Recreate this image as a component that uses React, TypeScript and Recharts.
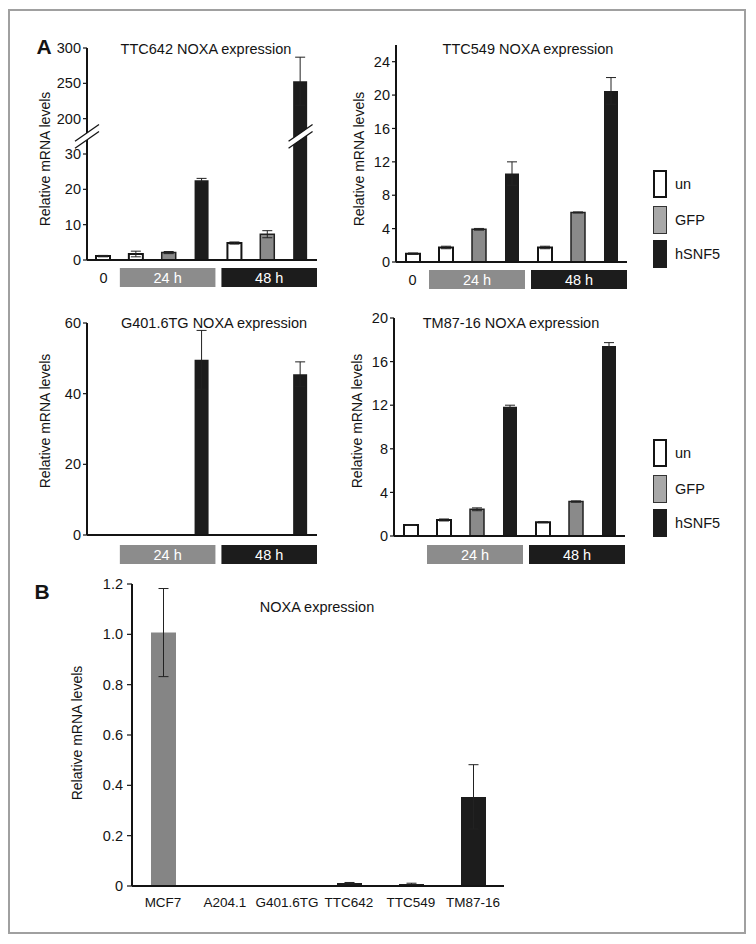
import React from "react";
import { BarChart, Bar, XAxis, YAxis, ErrorBar, Cell, ReferenceDot } from "recharts";

// panel A: time course, one bar per condition
const conditions = ["0", "24 h", "24 h", "24 h", "48 h", "48 h", "48 h"];
const treatments = ["un", "un", "GFP", "hSNF5", "un", "GFP", "hSNF5"];
const legendKeys = ["un", "GFP", "hSNF5"];

const ttc642Values = [1.1, 1.7, 2.1, 22.6, 4.8, 7.3, 253];
const ttc642Errors = [0.2, 0.8, 0.3, 0.5, 0.3, 1.0, 34];
const ttc642Ticks = [0, 10, 20, 30, 200, 250, 300];
const ttc642Break = { low: 30, high: 200, step: 50 };

const ttc549Values = [1.0, 1.74, 3.92, 10.6, 1.74, 5.94, 20.5];
const ttc549Errors = [0.08, 0.15, 0.1, 1.4, 0.15, 0.06, 1.6];
const ttc549Ticks = [0, 4, 8, 12, 16, 20, 24];

const g401Values = [0, 0, 0, 49.6, 0, 0, 45.5];
const g401Errors = [0, 0, 0, 8.3, 0, 0, 3.5];
const g401Ticks = [0, 20, 40, 60];

const tm87Values = [1.0, 1.47, 2.45, 11.86, 1.26, 3.16, 17.44];
const tm87Errors = [0.03, 0.09, 0.13, 0.14, 0.05, 0.06, 0.3];
const tm87Ticks = [0, 4, 8, 12, 16, 20];

// panel B: cell lines
const cellLines = ["MCF7", "A204.1", "G401.6TG", "TTC642", "TTC549", "TM87-16"];
const panelBValues = [1.007, 0, 0, 0.012, 0.008, 0.354];
const panelBErrors = [0.175, 0, 0, 0.002, 0.003, 0.128];
const panelBTicks = [0, 0.2, 0.4, 0.6, 0.8, 1.0, 1.2];

const FONT = '"Liberation Sans", Arial, Helvetica, sans-serif';
const INK = "#141414";
const BLACK = "#1c1c1c";
const GREY = "#8a8a8a";
const WHISKER = "#222";

const barStyle: Record<string, { fill: string; stroke: string; strokeWidth: number }> = {
  un: { fill: "#ffffff", stroke: INK, strokeWidth: 2 },
  GFP: { fill: GREY, stroke: "#222", strokeWidth: 1.5 },
  hSNF5: { fill: BLACK, stroke: BLACK, strokeWidth: 0 },
};
const groupFill: Record<string, string> = { "24 h": "#8c8c8c", "48 h": BLACK };

// squeeze values above the break onto the upper axis segment
const toBroken = (v: number) =>
  v <= ttc642Break.low ? v : ttc642Break.low + 10 + ((v - ttc642Break.high) / ttc642Break.step) * 10;
const fromBroken = (d: number) =>
  d <= ttc642Break.low ? d : ttc642Break.high + ((d - ttc642Break.low - 10) / 10) * ttc642Break.step;

function groupsOf(labels: string[]) {
  const out: { label: string; from: number; to: number }[] = [];
  labels.forEach((l, i) => {
    const last = out[out.length - 1];
    if (last && last.label === l) last.to = i + 1;
    else out.push({ label: l, from: i, to: i + 1 });
  });
  return out;
}

const BreakMark = ({ cx, cy, half }: { cx: number; cy: number; half: number }) => {
  const rise = half * 0.7;
  const gap = 3.5;
  return (
    <g>
      <polygon
        points={`${cx - half},${cy + rise + gap} ${cx + half},${cy - rise + gap} ${cx + half},${cy - rise - gap} ${cx - half},${cy + rise - gap}`}
        fill="#fff"
      />
      <line x1={cx - half} y1={cy + rise + gap} x2={cx + half} y2={cy - rise + gap} stroke={INK} strokeWidth={1.3} />
      <line x1={cx - half} y1={cy + rise - gap} x2={cx + half} y2={cy - rise - gap} stroke={INK} strokeWidth={1.3} />
    </g>
  );
};

type Plot = { x: number; y: number; w: number; h: number };

type PanelProps = {
  plot: Plot;
  values: number[];
  errors: number[];
  domain: [number, number];
  ticks: number[];
  broken?: boolean;
  showZero: boolean;
  boxGap: number;
};

const YW = 42;
const MT = 12;

function TimePanel({ plot, values, errors, domain, ticks, broken, showZero, boxGap }: PanelProps) {
  const disp = broken ? toBroken : (v: number) => v;
  const rows = values.map((v, i) => ({
    x: i + 0.5,
    value: disp(v),
    err: [disp(v) - disp(Math.max(0, v - errors[i])), disp(v + errors[i]) - disp(v)],
    kind: treatments[i],
  }));
  const n = rows.length;
  const unit = plot.w / n;
  const groups = groupsOf(conditions);
  const mr = 6;
  const grpH = 24;

  const GroupTick = (props: any) => {
    const { x, y, payload } = props;
    const gi = groups.findIndex((g) => (g.from + g.to) / 2 === payload.value);
    const g = groups[gi];
    if (!g) return null;
    const fill = groupFill[g.label];
    if (!fill) {
      if (!showZero) return null;
      return (
        <text x={x} y={y + 10} textAnchor="middle" dominantBaseline="central" fontSize={14.5} fill={INK}>
          {g.label}
        </text>
      );
    }
    const prev = groups[gi - 1] && groupFill[groups[gi - 1].label];
    const next = groups[gi + 1] && groupFill[groups[gi + 1].label];
    const half = ((g.to - g.from) * unit) / 2;
    const left = x - half + (prev ? 3 : 0);
    const right = x + half - (next ? 3 : 0);
    return (
      <g>
        <rect x={left} y={y} width={right - left} height={19} fill={fill} />
        <text x={(left + right) / 2} y={y + 10} textAnchor="middle" dominantBaseline="central" fontSize={14.5} fill="#fff">
          {g.label}
        </text>
      </g>
    );
  };

  const breakRow = broken ? rows.findIndex((r, i) => values[i] > ttc642Break.low) : -1;
  const breakY = ttc642Break.low + 5;

  return (
    <div style={{ position: "absolute", left: plot.x - YW, top: plot.y - MT }}>
      <BarChart
        width={YW + plot.w + mr}
        height={MT + plot.h + boxGap + grpH}
        data={rows}
        margin={{ top: MT, right: mr, left: 0, bottom: 0 }}
      >
        <XAxis
          xAxisId="b"
          dataKey="x"
          type="number"
          domain={[0, n]}
          ticks={groups.map((g) => (g.from + g.to) / 2)}
          interval={0}
          axisLine={false}
          tickLine={false}
          tickSize={0}
          tickMargin={0}
          height={grpH}
          tick={GroupTick}
          allowDataOverflow
        />
        <XAxis
          xAxisId="a"
          dataKey="x"
          type="number"
          domain={[0, n]}
          ticks={rows.map((_, i) => i).concat(n)}
          interval={0}
          tick={false}
          tickSize={5}
          height={boxGap}
          axisLine={{ stroke: INK, strokeWidth: 2 }}
          tickLine={{ stroke: INK, strokeWidth: 1.5 }}
          allowDataOverflow
        />
        <YAxis
          width={YW}
          type="number"
          domain={domain}
          ticks={ticks}
          interval={0}
          allowDataOverflow
          tickSize={4}
          tickMargin={2}
          tick={{ fill: INK, fontSize: 14.5 }}
          tickFormatter={(v: number) => String(broken ? Math.round(fromBroken(v)) : v)}
          axisLine={{ stroke: INK, strokeWidth: 2 }}
          tickLine={{ stroke: INK, strokeWidth: 1.2 }}
        />
        <Bar xAxisId="a" dataKey="value" barSize={14} isAnimationActive={false}>
          {rows.map((r, i) => (
            <Cell key={i} {...barStyle[r.kind]} />
          ))}
          <ErrorBar dataKey="err" width={5} stroke={WHISKER} strokeWidth={1} direction="y" isAnimationActive={false} />
        </Bar>
        {broken && (
          <ReferenceDot
            xAxisId="a"
            x={rows[breakRow].x}
            y={breakY}
            ifOverflow="visible"
            shape={(p: any) => <BreakMark cx={p.cx} cy={p.cy} half={12} />}
          />
        )}
        {broken && (
          <ReferenceDot
            xAxisId="a"
            x={0}
            y={breakY}
            ifOverflow="visible"
            shape={(p: any) => <BreakMark cx={p.cx} cy={p.cy} half={12} />}
          />
        )}
      </BarChart>
    </div>
  );
}

function CellLinePanel() {
  const plot = { x: 132, y: 584, w: 372, h: 302 };
  const yw = 50;
  const mr = 8;
  const rows = panelBValues.map((v, i) => ({
    x: i + 0.5,
    value: v,
    err: panelBErrors[i],
    name: cellLines[i],
  }));
  const n = rows.length;
  return (
    <div style={{ position: "absolute", left: plot.x - yw, top: plot.y - MT }}>
      <BarChart
        width={yw + plot.w + mr}
        height={MT + plot.h + 6 + 26}
        data={rows}
        margin={{ top: MT, right: mr, left: 0, bottom: 0 }}
      >
        <XAxis
          xAxisId="b"
          dataKey="x"
          type="number"
          domain={[0, n]}
          ticks={rows.map((r) => r.x)}
          interval={0}
          axisLine={false}
          tickLine={false}
          tickSize={0}
          tickMargin={0}
          height={26}
          tick={(p: any) => (
            <text x={p.x} y={p.y + 10} textAnchor="middle" dominantBaseline="central" fontSize={13.5} fill={INK}>
              {cellLines[Math.floor(p.payload.value)]}
            </text>
          )}
          allowDataOverflow
        />
        <XAxis
          xAxisId="a"
          dataKey="x"
          type="number"
          domain={[0, n]}
          ticks={rows.map((_, i) => i).concat(n)}
          interval={0}
          tick={false}
          tickSize={5}
          height={6}
          axisLine={{ stroke: INK, strokeWidth: 2 }}
          tickLine={{ stroke: INK, strokeWidth: 1.5 }}
          allowDataOverflow
        />
        <YAxis
          width={yw}
          type="number"
          domain={[0, 1.2]}
          ticks={panelBTicks}
          interval={0}
          allowDataOverflow
          tickSize={5}
          tickMargin={4}
          tick={{ fill: INK, fontSize: 14.5 }}
          tickFormatter={(v: number) => (v === 0 ? "0" : v.toFixed(1))}
          axisLine={{ stroke: INK, strokeWidth: 2 }}
          tickLine={{ stroke: INK, strokeWidth: 1.2 }}
        />
        <Bar xAxisId="a" dataKey="value" barSize={25} isAnimationActive={false}>
          {rows.map((r, i) => (
            <Cell key={i} fill={i === 0 ? "#858585" : BLACK} />
          ))}
          <ErrorBar dataKey="err" width={5} stroke={WHISKER} strokeWidth={1} direction="y" isAnimationActive={false} />
        </Bar>
      </BarChart>
    </div>
  );
}

const Text = ({ x, y, children, size = 14.5, weight = 400, rotate = false }: any) => (
  <div
    style={{
      position: "absolute",
      left: x,
      top: y,
      transform: `translate(-50%, -50%)${rotate ? " rotate(-90deg)" : ""}`,
      whiteSpace: "nowrap",
      fontSize: size,
      fontWeight: weight,
      lineHeight: 1,
      color: INK,
    }}
  >
    {children}
  </div>
);

const legendBox: Record<string, React.CSSProperties> = {
  un: { background: "#fff", border: `2px solid ${INK}` },
  GFP: { background: "#a8a8a8", border: "1.5px solid #333" },
  hSNF5: { background: BLACK, border: `1px solid ${BLACK}` },
};

const Legend = ({ tops }: { tops: number[] }) => (
  <>
    {legendKeys.map((k, i) => (
      <React.Fragment key={k}>
        <div
          style={{
            position: "absolute",
            left: 653,
            top: tops[i],
            width: 14,
            height: 28,
            boxSizing: "border-box",
            ...legendBox[k],
          }}
        />
        <div style={{ position: "absolute", left: 675, top: tops[i] + 14, transform: "translateY(-50%)", fontSize: 14.5, lineHeight: 1, color: INK }}>
          {k}
        </div>
      </React.Fragment>
    ))}
  </>
);

export default function App() {
  return (
    <div style={{ position: "absolute", left: 0, top: 0, width: 756, height: 944, fontFamily: FONT, background: "#fff" }}>
      <div
        style={{
          position: "absolute",
          left: 8,
          top: 9,
          width: 738,
          height: 925,
          border: "2px solid #a0a0a0",
          boxSizing: "border-box",
        }}
      />
      <Text x={44} y={46} size={21} weight={700}>A</Text>
      <Text x={42} y={591} size={21} weight={700}>B</Text>

      <TimePanel
        plot={{ x: 87, y: 48, w: 230, h: 212 }}
        values={ttc642Values}
        errors={ttc642Errors}
        domain={[0, toBroken(300)]}
        ticks={ttc642Ticks.map(toBroken)}
        broken
        showZero
        boxGap={8}
      />
      <Text x={206} y={49}>TTC642 NOXA expression</Text>
      <Text x={45} y={159} size={14} rotate>Relative mRNA levels</Text>

      <TimePanel
        plot={{ x: 396, y: 45, w: 231, h: 217 }}
        values={ttc549Values}
        errors={ttc549Errors}
        domain={[0, 26]}
        ticks={ttc549Ticks}
        showZero
        boxGap={8}
      />
      <Text x={528} y={49}>TTC549 NOXA expression</Text>
      <Text x={359} y={159} size={14} rotate>Relative mRNA levels</Text>
      <Legend tops={[170, 206, 240]} />

      <TimePanel
        plot={{ x: 87, y: 323, w: 230, h: 212 }}
        values={g401Values}
        errors={g401Errors}
        domain={[0, 60]}
        ticks={g401Ticks}
        showZero={false}
        boxGap={10}
      />
      <Text x={214} y={323}>G401.6TG NOXA expression</Text>
      <Text x={45} y={421} size={14} rotate>Relative mRNA levels</Text>

      <TimePanel
        plot={{ x: 394, y: 318, w: 231, h: 218 }}
        values={tm87Values}
        errors={tm87Errors}
        domain={[0, 20]}
        ticks={tm87Ticks}
        showZero={false}
        boxGap={9}
      />
      <Text x={511} y={323}>TM87-16 NOXA expression</Text>
      <Text x={357} y={421} size={14} rotate>Relative mRNA levels</Text>
      <Legend tops={[439, 475, 509]} />

      <CellLinePanel />
      <Text x={317} y={607}>NOXA expression</Text>
      <Text x={77} y={733} size={14} rotate>Relative mRNA levels</Text>
    </div>
  );
}
